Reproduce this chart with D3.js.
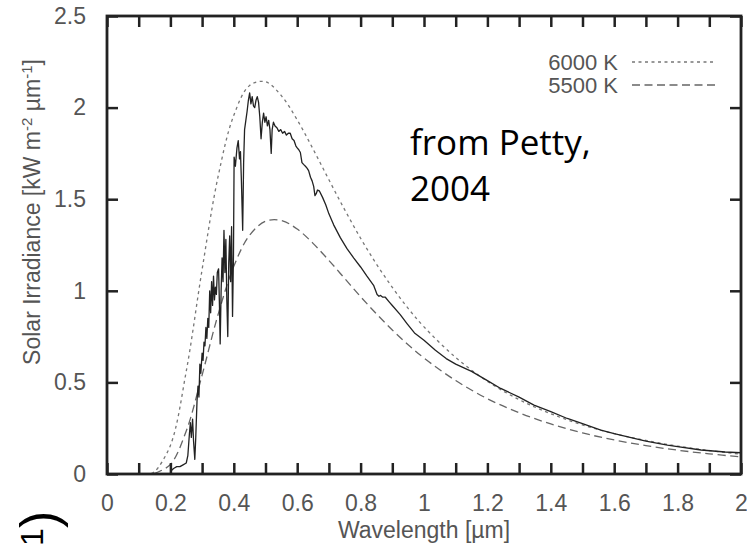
<!DOCTYPE html>
<html>
<head>
<meta charset="utf-8">
<script src="https://cdn.jsdelivr.net/npm/d3@7/dist/d3.min.js"></script>
<style>
  html, body { margin: 0; padding: 0; background: #fff; }
  svg { display: block; }
</style>
</head>
<body>
<svg id="chart" width="747" height="549"></svg>
<script>
// ---------------- DATA ----------------
// Blackbody curves, wavelength in µm, irradiance in kW m^-2 µm^-1
const bbWavelength6000 = [0.14, 0.15, 0.2, 0.25, 0.3, 0.35, 0.4, 0.45, 0.5, 0.55, 0.6, 0.65, 0.7, 0.75, 0.8, 0.85, 0.9, 0.95, 1.0, 1.1, 1.2, 1.3, 1.4, 1.5, 1.6, 1.7, 1.8, 1.9, 2.0];
const bb6000 = [0.004, 0.012, 0.156, 0.561, 1.116, 1.620, 1.958, 2.121, 2.141, 2.065, 1.933, 1.774, 1.606, 1.442, 1.287, 1.146, 1.019, 0.904, 0.803, 0.636, 0.506, 0.406, 0.329, 0.268, 0.220, 0.183, 0.152, 0.128, 0.108];

const bbWavelength5500 = [0.15, 0.2, 0.25, 0.3, 0.35, 0.4, 0.45, 0.5, 0.55, 0.6, 0.65, 0.7, 0.75, 0.8, 0.85, 0.9, 0.95, 1.0, 1.1, 1.2, 1.3, 1.4, 1.5, 1.6, 1.7, 1.8, 1.9, 2.0];
const bb5500 = [0.003, 0.052, 0.235, 0.540, 0.868, 1.134, 1.304, 1.380, 1.384, 1.337, 1.259, 1.166, 1.067, 0.968, 0.874, 0.786, 0.706, 0.633, 0.510, 0.411, 0.334, 0.273, 0.224, 0.186, 0.155, 0.130, 0.110, 0.093];

// Observed solar spectrum (solid line)
const solarWavelength = [0.200, 0.204, 0.210, 0.220, 0.230, 0.240, 0.250, 0.255, 0.260, 0.263, 0.266, 0.270, 0.273, 0.277, 0.280, 0.284, 0.287, 0.290, 0.293, 0.296, 0.300, 0.303, 0.306, 0.309, 0.312, 0.315, 0.318, 0.321, 0.324, 0.327, 0.330, 0.333, 0.336, 0.339, 0.342, 0.345, 0.348, 0.352, 0.355, 0.357, 0.360, 0.363, 0.366, 0.369, 0.372, 0.375, 0.378, 0.381, 0.384, 0.387, 0.390, 0.393, 0.396, 0.399, 0.401, 0.405, 0.410, 0.414, 0.418, 0.421, 0.424, 0.428, 0.431, 0.434, 0.438, 0.442, 0.446, 0.450, 0.454, 0.458, 0.462, 0.466, 0.470, 0.474, 0.478, 0.482, 0.486, 0.490, 0.494, 0.498, 0.502, 0.506, 0.510, 0.514, 0.518, 0.521, 0.525, 0.530, 0.536, 0.542, 0.548, 0.554, 0.560, 0.566, 0.572, 0.578, 0.584, 0.590, 0.596, 0.600, 0.605, 0.610, 0.615, 0.620, 0.626, 0.631, 0.636, 0.642, 0.647, 0.652, 0.656, 0.660, 0.664, 0.670, 0.680, 0.690, 0.700, 0.715, 0.736, 0.757, 0.778, 0.800, 0.820, 0.841, 0.852, 0.858, 0.863, 0.870, 0.878, 0.890, 0.900, 0.925, 0.947, 0.970, 1.000, 1.036, 1.070, 1.100, 1.150, 1.200, 1.242, 1.300, 1.347, 1.400, 1.452, 1.500, 1.558, 1.600, 1.663, 1.700, 1.768, 1.800, 1.874, 1.950, 2.000];
const solarIrradiance = [0.00, 0.02, 0.03, 0.04, 0.04, 0.05, 0.06, 0.10, 0.22, 0.28, 0.20, 0.30, 0.18, 0.08, 0.20, 0.40, 0.48, 0.42, 0.60, 0.55, 0.66, 0.62, 0.72, 0.70, 0.80, 0.74, 0.85, 0.80, 1.00, 0.88, 1.05, 0.92, 1.08, 0.95, 1.02, 0.98, 1.10, 1.12, 0.90, 0.71, 1.00, 1.18, 1.05, 1.33, 1.10, 1.28, 0.95, 0.75, 1.15, 1.30, 1.05, 1.35, 0.86, 1.20, 1.73, 1.68, 1.78, 1.82, 1.72, 1.76, 1.60, 1.33, 1.70, 1.88, 1.93, 1.98, 2.04, 2.08, 2.02, 2.06, 2.01, 2.00, 2.04, 2.06, 2.03, 1.95, 1.83, 1.92, 1.97, 1.92, 1.95, 1.90, 1.93, 1.88, 1.75, 1.88, 1.92, 1.90, 1.89, 1.87, 1.88, 1.86, 1.87, 1.85, 1.86, 1.86, 1.83, 1.82, 1.79, 1.78, 1.77, 1.755, 1.70, 1.69, 1.68, 1.67, 1.656, 1.62, 1.60, 1.57, 1.52, 1.53, 1.55, 1.545, 1.51, 1.47, 1.42, 1.36, 1.29, 1.23, 1.18, 1.13, 1.08, 1.03, 0.98, 0.97, 0.975, 0.965, 0.965, 0.94, 0.92, 0.87, 0.82, 0.77, 0.73, 0.675, 0.63, 0.60, 0.56, 0.51, 0.467, 0.42, 0.376, 0.34, 0.303, 0.275, 0.24, 0.22, 0.194, 0.18, 0.158, 0.15, 0.131, 0.12, 0.116];

const xTicks = [0, 0.1, 0.2, 0.3, 0.4, 0.5, 0.6, 0.7, 0.8, 0.9, 1.0, 1.1, 1.2, 1.3, 1.4, 1.5, 1.6, 1.7, 1.8, 1.9, 2.0];
const xTickLabels = ["0", "", "0.2", "", "0.4", "", "0.6", "", "0.8", "", "1", "", "1.2", "", "1.4", "", "1.6", "", "1.8", "", "2"];
const yTicks = [0, 0.5, 1, 1.5, 2, 2.5];
const yTickLabels = ["0", "0.5", "1", "1.5", "2", "2.5"];
const legendLabels = ["6000 K", "5500 K"];

// ---------------- LAYOUT ----------------
const svg = d3.select("#chart");
const L = 107, R = 741, T = 16, B = 474;
const x = d3.scaleLinear().domain([0, 2]).range([L, R]);
const y = d3.scaleLinear().domain([0, 2.5]).range([B, T]);

const tickFont = "'Liberation Sans', Arial, sans-serif";
const textGray = "#555";
const frameColor = "#222";

svg.append("defs").append("clipPath").attr("id", "plotclip")
  .append("rect").attr("x", L).attr("y", T).attr("width", R - L).attr("height", B - T);

// ---------------- CURVES ----------------
const line = d3.line().x(d => x(d[0])).y(d => y(d[1]));
const smooth = d3.line().x(d => x(d[0])).y(d => y(d[1])).curve(d3.curveCatmullRom.alpha(0.5));

const plot = svg.append("g").attr("clip-path", "url(#plotclip)");

plot.append("path")
  .datum(d3.zip(bbWavelength6000, bb6000))
  .attr("d", smooth)
  .attr("fill", "none")
  .attr("stroke", "#777")
  .attr("stroke-width", 1.3)
  .attr("stroke-dasharray", "3,3.5");

plot.append("path")
  .datum(d3.zip(bbWavelength5500, bb5500))
  .attr("d", smooth)
  .attr("fill", "none")
  .attr("stroke", "#666")
  .attr("stroke-width", 1.3)
  .attr("stroke-dasharray", "8,4.5");

plot.append("path")
  .datum(d3.zip(solarWavelength, solarIrradiance))
  .attr("d", line)
  .attr("fill", "none")
  .attr("stroke", "#222")
  .attr("stroke-width", 1.3)
  .attr("stroke-linejoin", "round");

// ---------------- AXES ----------------
const tickLen = 11;
const xAxisB = d3.axisBottom(x).tickValues(xTicks).tickSize(-tickLen).tickPadding(tickLen + 10)
  .tickFormat((d, i) => xTickLabels[i]);
const gxb = svg.append("g").attr("transform", `translate(0,${B})`).call(xAxisB);
const xAxisT = d3.axisTop(x).tickValues(xTicks).tickSize(-tickLen).tickFormat("");
const gxt = svg.append("g").attr("transform", `translate(0,${T})`).call(xAxisT);
const yAxisL = d3.axisLeft(y).tickValues(yTicks).tickSize(-tickLen).tickPadding(tickLen + 10)
  .tickFormat((d, i) => yTickLabels[i]);
const gyl = svg.append("g").attr("transform", `translate(${L},0)`).call(yAxisL);
const yAxisR = d3.axisRight(y).tickValues(yTicks).tickSize(-tickLen).tickFormat("");
const gyr = svg.append("g").attr("transform", `translate(${R},0)`).call(yAxisR);

[gxb, gxt, gyl, gyr].forEach(g => {
  g.select(".domain").remove();
  g.selectAll(".tick line").attr("stroke", frameColor).attr("stroke-width", 2.5);
  g.selectAll(".tick text")
    .attr("font-family", tickFont)
    .attr("font-size", 23)
    .attr("fill", textGray);
});

// frame
svg.append("rect")
  .attr("x", L).attr("y", T).attr("width", R - L).attr("height", B - T)
  .attr("fill", "none").attr("stroke", frameColor).attr("stroke-width", 2.8);

// axis titles
svg.append("text")
  .attr("x", (L + R) / 2).attr("y", 538)
  .attr("text-anchor", "middle")
  .attr("font-family", tickFont).attr("font-size", 23).attr("fill", textGray)
  .text("Wavelength [µm]");

const yt = svg.append("text")
  .attr("transform", "translate(40,212) rotate(-90)")
  .attr("text-anchor", "middle")
  .attr("font-family", tickFont).attr("font-size", 23).attr("fill", textGray);
yt.append("tspan").text("Solar Irradiance [kW m");
yt.append("tspan").attr("dy", -8).attr("font-size", 15).text("-2");
yt.append("tspan").attr("dy", 8).text(" µm");
yt.append("tspan").attr("dy", -8).attr("font-size", 15).text("-1");
yt.append("tspan").attr("dy", 8).text("]");

// ---------------- LEGEND ----------------
const legend = svg.append("g");
const legendDash = ["3,3.5", "8,4.5"];
const legendStroke = ["#777", "#666"];
const legendY = [62, 85];
legendLabels.forEach((lab, i) => {
  legend.append("text")
    .attr("x", 618).attr("y", legendY[i] + 8)
    .attr("text-anchor", "end")
    .attr("font-family", tickFont).attr("font-size", 22).attr("fill", textGray)
    .text(lab);
  legend.append("line")
    .attr("x1", 632).attr("x2", 716)
    .attr("y1", legendY[i]).attr("y2", legendY[i])
    .attr("stroke", legendStroke[i]).attr("stroke-width", 1.3)
    .attr("stroke-dasharray", legendDash[i]);
});

// ---------------- ANNOTATION ----------------
const ann = svg.append("text")
  .attr("font-family", "'Open Sans', 'Noto Sans', sans-serif")
  .attr("font-size", 35).attr("fill", "#000");
ann.append("tspan").attr("x", 410).attr("y", 155).text("from Petty,");
ann.append("tspan").attr("x", 410).attr("y", 201).text("2004");

// cropped slide text at bottom-left (rotated, mostly off-page)
svg.append("text")
  .attr("transform", "translate(43,546) rotate(-90)")
  .attr("font-family", "'Liberation Sans', Arial, sans-serif")
  .attr("font-size", 32).attr("fill", "#000")
  .text("1");
svg.append("text")
  .attr("transform", "translate(57,528) rotate(-90)")
  .attr("font-family", "'Liberation Sans', Arial, sans-serif")
  .attr("font-size", 52).attr("fill", "#000")
  .text(")");
</script>
</body>
</html>
